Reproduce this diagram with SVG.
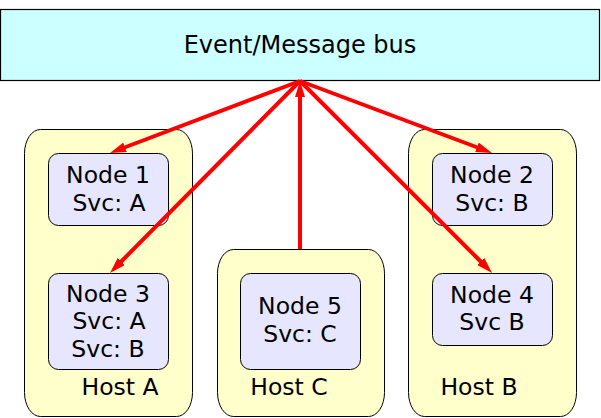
<svg xmlns="http://www.w3.org/2000/svg" width="601" height="418" viewBox="0 0 601 418">
<style>
text{font-family:"DejaVu Sans",sans-serif;font-size:23.5px;fill:#000;text-anchor:middle}
.bus{fill:#ccffff;stroke:#000;stroke-width:1.2}
.host{fill:#ffffcc;stroke:#000;stroke-width:1}
.node{fill:#e6e6ff;stroke:#000;stroke-width:1}
.conn{stroke:#ff0000;stroke-width:4;fill:none;marker-end:url(#arr)}
</style>
<defs>
<marker id="arr" markerUnits="userSpaceOnUse" markerWidth="16" markerHeight="10" viewBox="0 0 16 10" refX="2" refY="5" orient="auto">
<path d="M0,0 L16,5 L0,10 z" fill="#ff0000"/>
</marker>
</defs>
<rect width="601" height="418" fill="#fff"/>
<g id="bus">
<rect class="bus" x="0.5" y="9.5" width="599" height="71"/>
<text x="300" y="53" style="font-size:24px">Event/Message bus</text>
</g>
<g id="hostA">
<rect class="host" x="24.5" y="129.5" width="168" height="287" rx="16" ry="24"/>
<text x="120" y="395">Host A</text>
</g>
<g id="hostC">
<rect class="host" x="217.5" y="249.5" width="167" height="167" rx="16" ry="24"/>
<text x="289" y="395">Host C</text>
</g>
<g id="hostB">
<rect class="host" x="408.5" y="129.5" width="168" height="287" rx="16" ry="24"/>
<text x="479" y="395">Host B</text>
</g>
<g id="node1">
<rect class="node" x="48.5" y="153.5" width="120" height="72" rx="10"/>
<text x="108" y="183">Node 1</text>
<text x="109" y="211">Svc: A</text>
</g>
<g id="node3">
<rect class="node" x="48.5" y="273.5" width="120" height="96" rx="10"/>
<text x="108" y="302">Node 3</text>
<text x="109" y="329">Svc: A</text>
<text x="108" y="357">Svc: B</text>
</g>
<g id="node5">
<rect class="node" x="240.5" y="273.5" width="120" height="96" rx="10"/>
<text x="300" y="314">Node 5</text>
<text x="300" y="342">Svc: C</text>
</g>
<g id="node2">
<rect class="node" x="432.5" y="153.5" width="120" height="72" rx="10"/>
<text x="492" y="183">Node 2</text>
<text x="492" y="211">Svc: B</text>
</g>
<g id="node4">
<rect class="node" x="432.5" y="273.5" width="120" height="72" rx="10"/>
<text x="492" y="303">Node 4</text>
<text x="492" y="330">Svc B</text>
</g>
<g id="connectors">
<line class="conn" x1="300" y1="81" x2="123.1" y2="148"/>
<line class="conn" x1="300" y1="81" x2="119.8" y2="263"/>
<line class="conn" x1="300" y1="81" x2="478.9" y2="148"/>
<line class="conn" x1="300" y1="81" x2="482.2" y2="263"/>
<line class="conn" x1="300" y1="249" x2="300" y2="95"/>
</g>
</svg>
